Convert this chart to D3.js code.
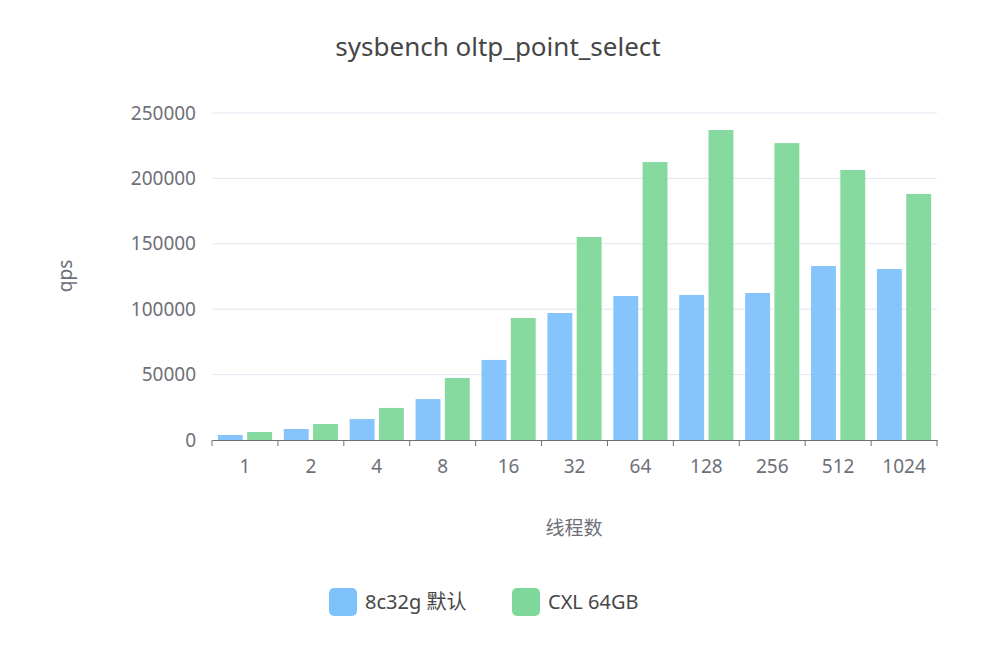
<!DOCTYPE html>
<html><head><meta charset="utf-8">
<script src="https://cdn.jsdelivr.net/npm/d3@7"></script>
<style>body{margin:0;background:#fff}text{font-family:"Noto Sans","Noto Sans CJK SC",sans-serif}</style>
</head><body><svg id="c" width="996" height="656"></svg>
<script>
const categories=["1","2","4","8","16","32","64","128","256","512","1024"];
const seriesNames=["8c32g 默认","CXL 64GB"];
const defaultQps=[3800,8400,16000,31300,61200,97100,110100,110900,112400,133000,130700];
const cxlQps=[6100,12200,24500,47400,93300,155200,212500,237000,227000,206400,188100];
const yTicks=[0,50000,100000,150000,200000,250000];
const colors=["#7ec2fb","#7fd89b"];
const svg=d3.select("#c");
const L=212,R=937,T=113,B=440;
const x=d3.scaleBand().domain(categories).range([L,R]);
const y=d3.scaleLinear().domain([0,250000]).range([B,T]);
const xs=d3.scaleBand().domain([0,1]).range([0,x.bandwidth()]).paddingInner(0.15).paddingOuter(0.2);
svg.append("text").attr("x",498).attr("y",56).attr("text-anchor","middle").attr("font-size",26).attr("fill","#464646").text("sysbench oltp_point_select");
svg.append("g").selectAll("line").data(yTicks.slice(1)).join("line").attr("x1",L).attr("x2",R).attr("y1",d=>y(d)).attr("y2",d=>y(d)).attr("stroke","#e0e6f1");
const yAx=svg.append("g").attr("transform",`translate(${L},0)`).call(d3.axisLeft(y).tickValues(yTicks).tickSize(0).tickPadding(16).tickFormat(d3.format("d")));
yAx.select(".domain").remove();
yAx.selectAll("text").attr("font-size",19).attr("fill","#6e7079");
const data=[defaultQps,cxlQps];
data.forEach((arr,i)=>{
 svg.append("g").selectAll("rect").data(arr).join("rect")
  .attr("x",(d,j)=>x(categories[j])+xs(i)).attr("width",xs.bandwidth())
  .attr("y",d=>y(d)).attr("height",d=>B-y(d)).attr("fill",colors[i]).attr("opacity",0.95);
});
const xAx=svg.append("g").attr("transform",`translate(0,${B})`).call(d3.axisBottom(x).tickSize(0).tickPadding(20));
xAx.select(".domain").attr("stroke","#6e7079");
xAx.selectAll("text").attr("font-size",19).attr("fill","#6e7079");
const ticks=d3.range(categories.length+1).map(k=>L+k*x.step());
svg.append("g").selectAll("line").data(ticks).join("line").attr("x1",d=>d).attr("x2",d=>d).attr("y1",B).attr("y2",B+6).attr("stroke","#6e7079");
svg.append("text").attr("transform","translate(72,276) rotate(-90)").attr("text-anchor","middle").attr("font-size",19).attr("fill","#6e7079").text("qps");
svg.append("text").attr("x",574).attr("y",535).attr("text-anchor","middle").attr("font-size",19).attr("fill","#6e7079").text("线程数");
const lg=[{x:329,t:seriesNames[0]},{x:512,t:seriesNames[1]}];
lg.forEach((l,i)=>{
 svg.append("rect").attr("x",l.x).attr("y",588).attr("width",28).attr("height",28).attr("rx",5).attr("fill",colors[i]);
 svg.append("text").attr("x",l.x+36).attr("y",609).attr("font-size",20).attr("fill","#464646").text(l.t);
});
</script></body></html>
